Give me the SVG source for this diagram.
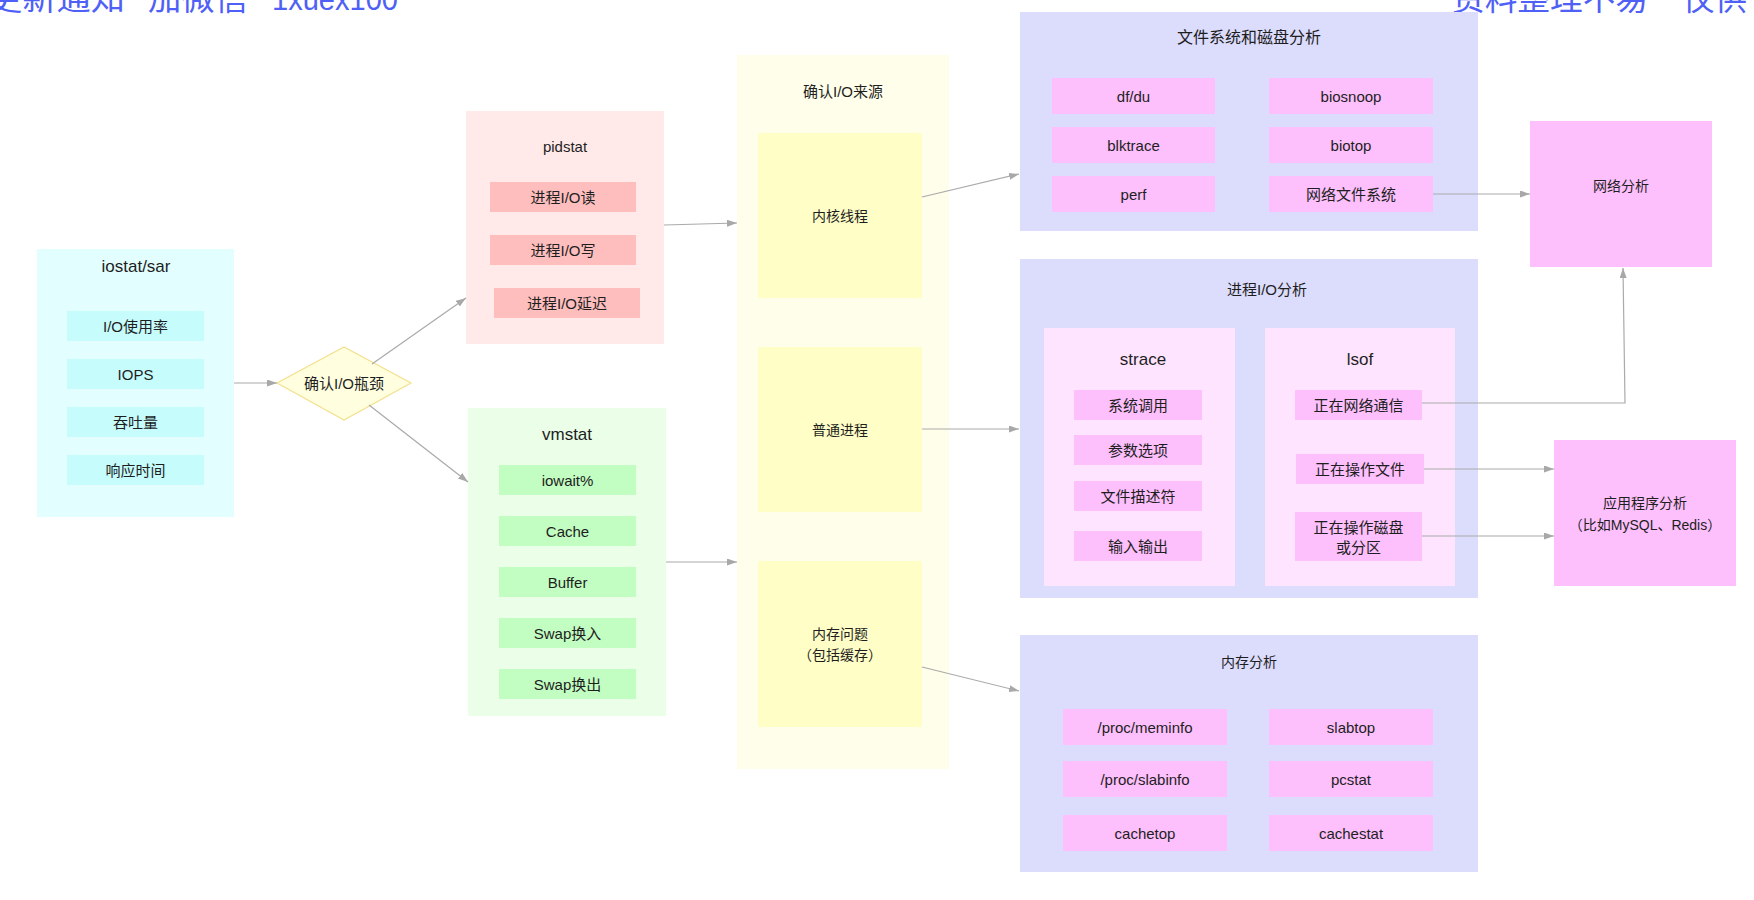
<svg xmlns="http://www.w3.org/2000/svg" width="1754" height="900" viewBox="0 0 1754 900">
<defs>
<style>
text{font-family:"Liberation Sans","Noto Sans CJK SC",sans-serif;fill:#1e1e1e;text-anchor:middle;dominant-baseline:central;font-size:15px}
.t17{font-size:17px}
.t16{font-size:16px}
.t14{font-size:14px}
.wm{font-size:32px;fill:#4f60f6;text-anchor:start;dominant-baseline:alphabetic}
.cn{fill:#e3fefe}.ci{fill:#c6fcfc}
.pk{fill:#ffe9e9}.pi{fill:#ffbebe}
.gn{fill:#eafee8}.gi{fill:#c2fdc2}
.yo{fill:#fffeea}.yi{fill:#fffec6}
.pu{fill:#dcdcfd}.mi{fill:#fdc0fd}.ml{fill:#fee4fe}
.ln{fill:none;stroke:#aaaaaa;stroke-width:1.2;marker-end:url(#ah)}
</style>
<marker id="ah" markerUnits="userSpaceOnUse" markerWidth="11" markerHeight="8" refX="10" refY="3.5" orient="auto">
<path d="M0,0 L10,3.5 L0,7 z" fill="#a8a8a8"/>
</marker>
</defs>
<rect width="1754" height="900" fill="#ffffff"/>

<g id="watermark">
<text class="wm" x="-12" y="9.5" textLength="137" lengthAdjust="spacingAndGlyphs">更新通知</text>
<text class="wm" x="148" y="9.5" textLength="100" lengthAdjust="spacingAndGlyphs">加微信</text>
<text class="wm" x="272" y="9.5" textLength="126" lengthAdjust="spacingAndGlyphs">1xuex100</text>
<text class="wm" x="1452" y="9.5" textLength="196" lengthAdjust="spacingAndGlyphs">资料整理不易</text>
<text class="wm" x="1682" y="9.5" textLength="65" lengthAdjust="spacingAndGlyphs">仅供</text>
</g>

<g id="iostat">
<rect class="cn" x="37" y="249" width="197" height="268"/>
<text class="t17" x="136" y="266">iostat/sar</text>
<rect class="ci" x="67" y="311" width="137" height="30"/><text x="135.5" y="326">I/O使用率</text>
<rect class="ci" x="67" y="359" width="137" height="30"/><text x="135.5" y="374">IOPS</text>
<rect class="ci" x="67" y="407" width="137" height="30"/><text x="135.5" y="422">吞吐量</text>
<rect class="ci" x="67" y="455" width="137" height="30"/><text x="135.5" y="470">响应时间</text>
</g>

<g id="bottleneck">
<polygon points="277,383 344,347 411,383 344,420" fill="#ffffdf" stroke="#f3e08e" stroke-width="1.2"/>
<text x="344" y="383">确认I/O瓶颈</text>
</g>

<g id="pidstat">
<rect class="pk" x="466" y="111" width="198" height="233"/>
<text x="565" y="146">pidstat</text>
<rect class="pi" x="490" y="182" width="146" height="30"/><text x="563" y="197">进程I/O读</text>
<rect class="pi" x="490" y="235" width="146" height="30"/><text x="563" y="250">进程I/O写</text>
<rect class="pi" x="494" y="288" width="146" height="30"/><text x="567" y="303">进程I/O延迟</text>
</g>

<g id="vmstat">
<rect class="gn" x="468" y="408" width="198" height="308"/>
<text class="t17" x="567" y="434">vmstat</text>
<rect class="gi" x="499" y="465" width="137" height="30"/><text x="567.5" y="480">iowait%</text>
<rect class="gi" x="499" y="516" width="137" height="30"/><text x="567.5" y="531">Cache</text>
<rect class="gi" x="499" y="567" width="137" height="30"/><text x="567.5" y="582">Buffer</text>
<rect class="gi" x="499" y="618" width="137" height="30"/><text x="567.5" y="633">Swap换入</text>
<rect class="gi" x="499" y="669" width="137" height="30"/><text x="567.5" y="684">Swap换出</text>
</g>

<g id="source">
<rect class="yo" x="737" y="55" width="212" height="714"/>
<text x="843" y="91">确认I/O来源</text>
</g>
<g id="kernel">
<rect class="yi" x="758" y="133" width="164" height="165"/>
<text class="t14" x="840" y="216">内核线程</text>
</g>
<g id="process">
<rect class="yi" x="758" y="347" width="164" height="165"/>
<text class="t14" x="840" y="430">普通进程</text>
</g>
<g id="memissue">
<rect class="yi" x="758" y="561" width="164" height="166"/>
<text class="t14" x="840" y="634">内存问题</text>
<text class="t14" x="840" y="655">（包括缓存）</text>
</g>

<g id="fsdisk">
<rect class="pu" x="1020" y="12" width="458" height="219"/>
<text class="t16" x="1249" y="37">文件系统和磁盘分析</text>
<rect class="mi" x="1052" y="78" width="163" height="36"/><text x="1133.5" y="96">df/du</text>
<rect class="mi" x="1269" y="78" width="164" height="36"/><text x="1351" y="96">biosnoop</text>
<rect class="mi" x="1052" y="127" width="163" height="36"/><text x="1133.5" y="145">blktrace</text>
<rect class="mi" x="1269" y="127" width="164" height="36"/><text x="1351" y="145">biotop</text>
<rect class="mi" x="1052" y="176" width="163" height="36"/><text x="1133.5" y="194">perf</text>
<rect class="mi" x="1269" y="176" width="164" height="36"/><text x="1351" y="194">网络文件系统</text>
</g>

<g id="procio">
<rect class="pu" x="1020" y="259" width="458" height="339"/>
<text x="1267" y="289">进程I/O分析</text>
</g>
<g id="strace">
<rect class="ml" x="1044" y="328" width="191" height="258"/>
<text class="t17" x="1143" y="359">strace</text>
<rect class="mi" x="1074" y="390" width="128" height="30"/><text x="1138" y="405">系统调用</text>
<rect class="mi" x="1074" y="435" width="128" height="30"/><text x="1138" y="450">参数选项</text>
<rect class="mi" x="1074" y="481" width="128" height="30"/><text x="1138" y="496">文件描述符</text>
<rect class="mi" x="1074" y="531" width="128" height="30"/><text x="1138" y="546">输入输出</text>
</g>
<g id="lsof">
<rect class="ml" x="1265" y="328" width="190" height="258"/>
<text class="t17" x="1360" y="359">lsof</text>
<rect class="mi" x="1295" y="390" width="127" height="30"/><text x="1358.5" y="405">正在网络通信</text>
<rect class="mi" x="1296" y="454" width="128" height="30"/><text x="1360" y="469">正在操作文件</text>
<rect class="mi" x="1295" y="512" width="127" height="49"/><text x="1358.5" y="527">正在操作磁盘</text><text x="1358.5" y="547">或分区</text>
</g>

<g id="memory">
<rect class="pu" x="1020" y="635" width="458" height="237"/>
<text class="t14" x="1249" y="662">内存分析</text>
<rect class="mi" x="1063" y="709" width="164" height="36"/><text x="1145" y="727">/proc/meminfo</text>
<rect class="mi" x="1269" y="709" width="164" height="36"/><text x="1351" y="727">slabtop</text>
<rect class="mi" x="1063" y="761" width="164" height="36"/><text x="1145" y="779">/proc/slabinfo</text>
<rect class="mi" x="1269" y="761" width="164" height="36"/><text x="1351" y="779">pcstat</text>
<rect class="mi" x="1063" y="815" width="164" height="36"/><text x="1145" y="833">cachetop</text>
<rect class="mi" x="1269" y="815" width="164" height="36"/><text x="1351" y="833">cachestat</text>
</g>

<g id="network">
<rect class="mi" x="1530" y="121" width="182" height="146"/>
<text class="t14" x="1621" y="186">网络分析</text>
</g>
<g id="application">
<rect class="mi" x="1554" y="440" width="182" height="146"/>
<text class="t14" x="1645" y="503">应用程序分析</text>
<text class="t14" x="1645" y="525">（比如MySQL、Redis）</text>
</g>

<g id="connectors">
<path class="ln" d="M234,383 L277,383"/>
<path class="ln" d="M372,364 L466,298"/>
<path class="ln" d="M369,405 L468,482"/>
<path class="ln" d="M664,225 L737,223"/>
<path class="ln" d="M666,562 L737,562"/>
<path class="ln" d="M922,197 L1019,174"/>
<path class="ln" d="M922,429 L1019,429"/>
<path class="ln" d="M922,667 L1019,691"/>
<path class="ln" d="M1433,194 L1530,194"/>
<path class="ln" d="M1422,403 L1625,403 L1623,268"/>
<path class="ln" d="M1424,469 L1554,469"/>
<path class="ln" d="M1422,536 L1554,536"/>
</g>
</svg>
